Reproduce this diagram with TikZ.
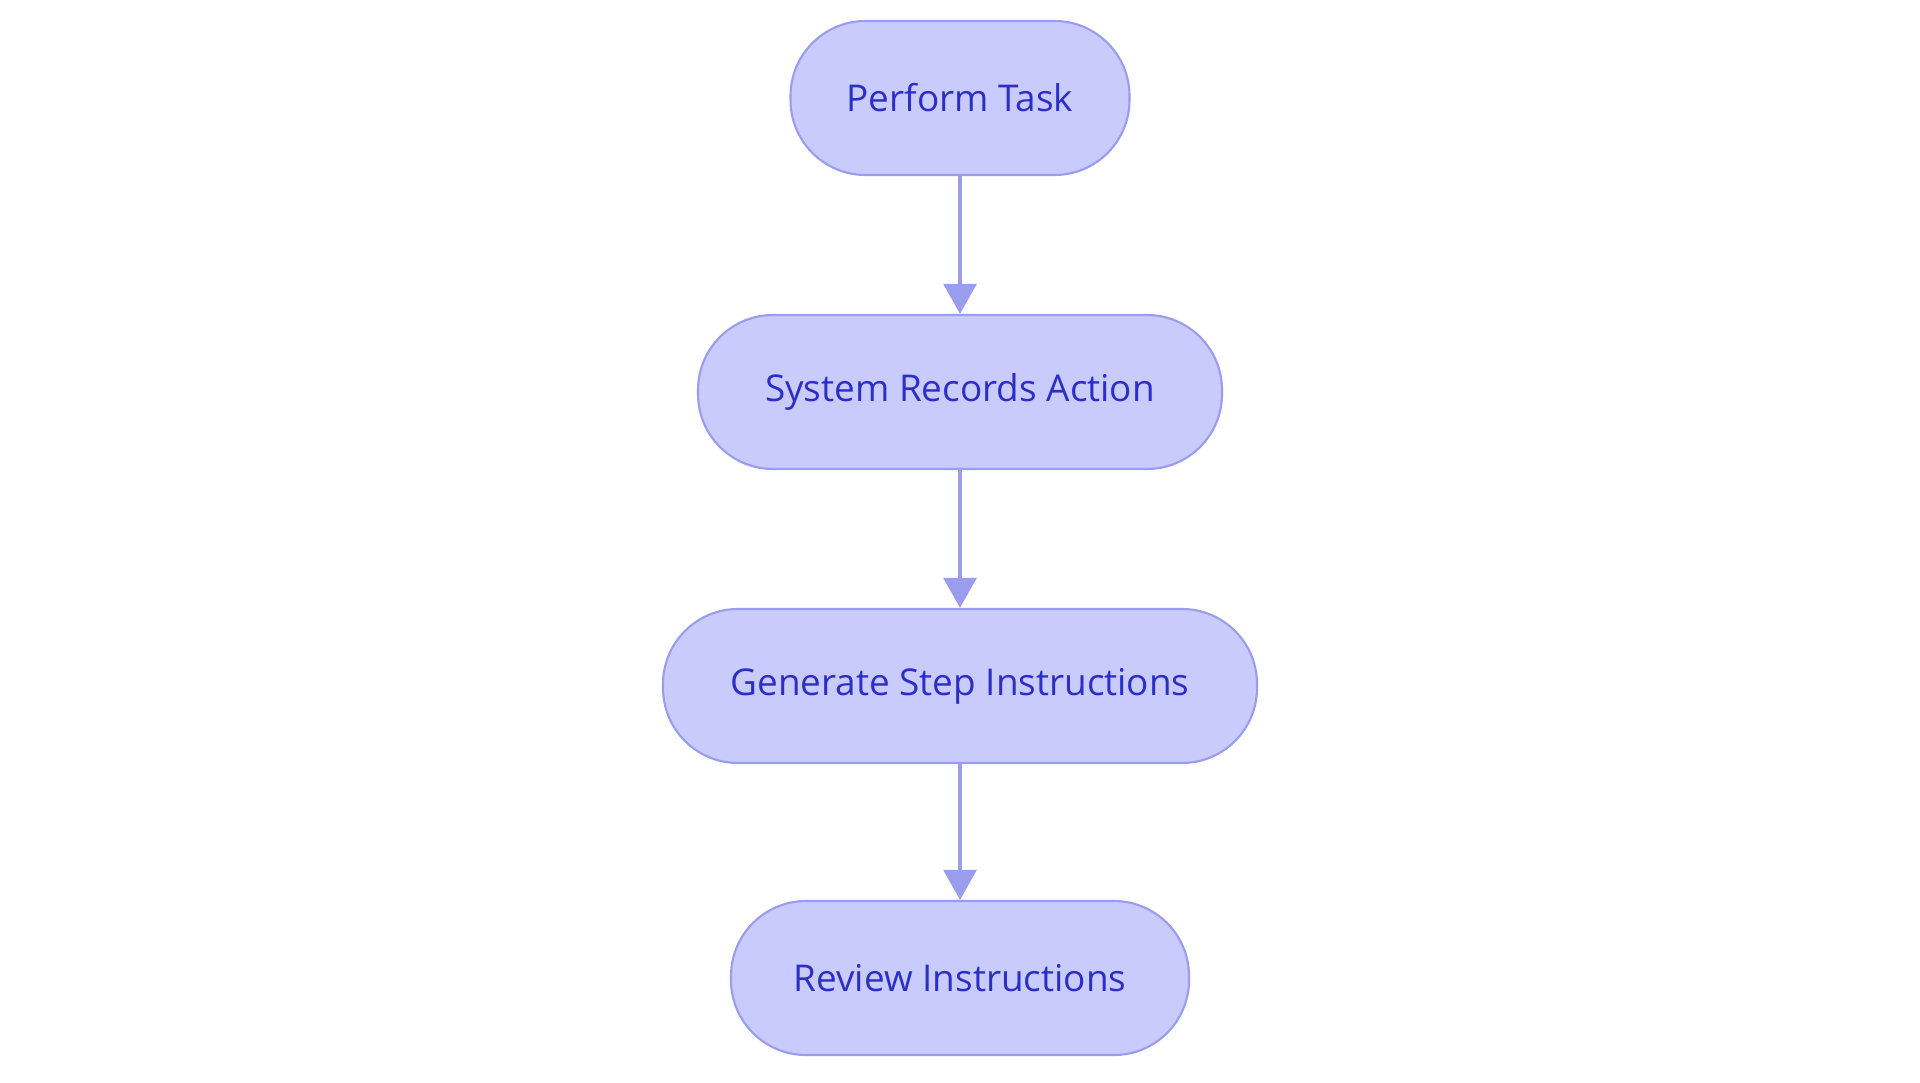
\documentclass[tikz,border=0pt]{standalone}
\usepackage{fontspec}
\setmainfont{Open Sans}
\usetikzlibrary{arrows.meta,positioning}
\definecolor{stepfill}{HTML}{C9CBFD}
\definecolor{stepline}{HTML}{9A9CEE}
\definecolor{steptext}{HTML}{2B2FC8}
\tikzset{taskstep/.style={draw=stepline, fill=stepfill, line width=1.2pt,
           rounded corners=1.5cm, minimum height=3.08cm, text=steptext,
           font=\fontsize{21}{25}\selectfont},
         flow/.style={-{Triangle[length=0.6cm,width=0.65cm]}, draw=stepline, line width=2.4pt}}
\begin{document}
\begin{tikzpicture}
            \useasboundingbox (0,0) rectangle (38.4,-21.66);
            \node [taskstep, minimum width=6.78cm] (task) at (19.2,-1.96) {Perform Task};
            \node [taskstep, minimum width=10.48cm] (record) at (19.2,-7.84) {System Records Action};
            \node [taskstep, minimum width=11.88cm] (generate) at (19.2,-13.72) {Generate Step Instructions};
            \node [taskstep, minimum width=9.16cm] (review) at (19.2,-19.56) {Review Instructions};

            \draw [flow] (task) -- (record);
            \draw [flow] (record) -- (generate);
            \draw [flow] (generate) -- (review);
\end{tikzpicture}
\end{document}
